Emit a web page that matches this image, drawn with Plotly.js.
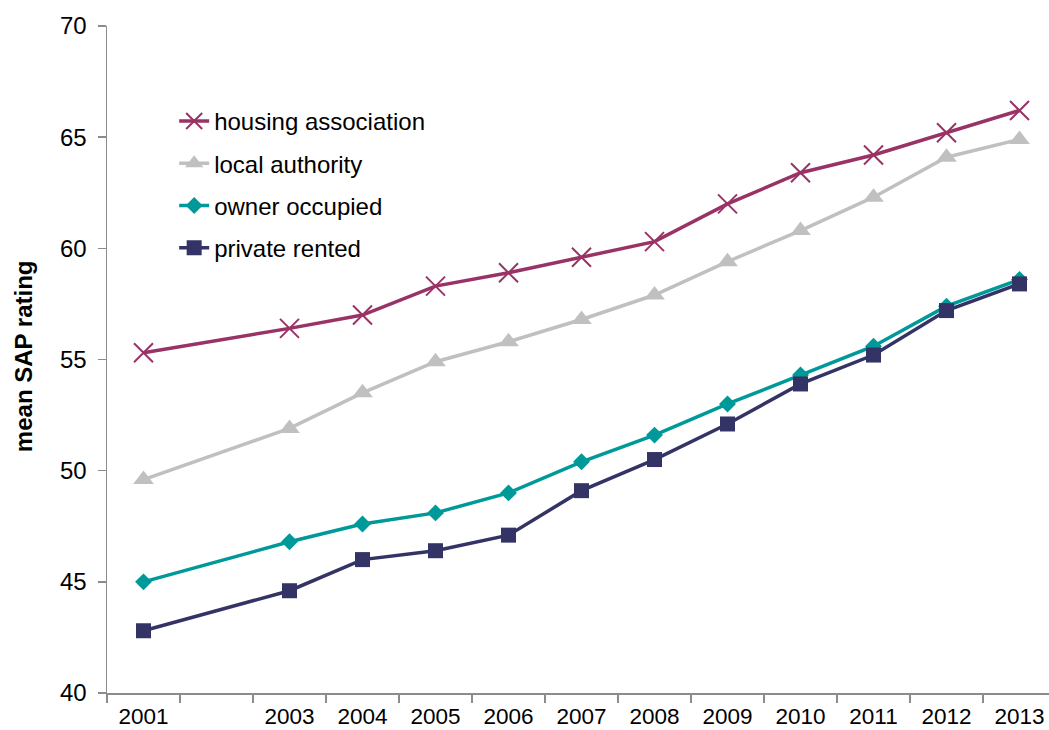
<!DOCTYPE html>
<html>
<head>
<meta charset="utf-8">
<script src="https://cdn.plot.ly/plotly-3.0.1.min.js"></script>
<style>
  html, body { margin: 0; padding: 0; background: #fff; overflow: hidden; }
  #chart { width: 1049px; height: 730px; }
</style>
</head>
<body>
<div id="chart"></div>
<script>
// Years (2002 has no survey data)
const years = [2001, 2003, 2004, 2005, 2006, 2007, 2008, 2009, 2010, 2011, 2012, 2013];
const tickLabels = ["2001", "2003", "2004", "2005", "2006", "2007", "2008", "2009", "2010", "2011", "2012", "2013"];

const housingAssociation = [55.3, 56.4, 57.0, 58.3, 58.9, 59.6, 60.3, 62.0, 63.4, 64.2, 65.2, 66.2];
const localAuthority     = [49.6, 51.9, 53.5, 54.9, 55.8, 56.8, 57.9, 59.4, 60.8, 62.3, 64.1, 64.9];
const ownerOccupied      = [45.0, 46.8, 47.6, 48.1, 49.0, 50.4, 51.6, 53.0, 54.3, 55.6, 57.4, 58.6];
const privateRented      = [42.8, 44.6, 46.0, 46.4, 47.1, 49.1, 50.5, 52.1, 53.9, 55.2, 57.2, 58.4];

const seriesNames = ["housing association", "local authority", "owner occupied", "private rented"];
const yTitle = "mean SAP rating";

const FONT = "Liberation Sans, Arial, sans-serif";
const AXIS = "#8c8c8c";

const traces = [
  {
    x: years, y: housingAssociation, name: seriesNames[0], legendgroup: "a",
    type: "scatter", mode: "lines+markers",
    line: { color: "#993366", width: 3.5 },
    marker: { symbol: "x-thin", size: 19, color: "#993366", line: { color: "#993366", width: 2 } }
  },
  {
    x: years, y: localAuthority, name: seriesNames[1], legendgroup: "b",
    type: "scatter", mode: "lines+markers",
    line: { color: "#c0c0c0", width: 3.5 },
    marker: { symbol: "triangle-up", size: 18, color: "#c0c0c0" }
  },
  {
    x: years, y: ownerOccupied, name: seriesNames[2], legendgroup: "c",
    type: "scatter", mode: "lines+markers",
    line: { color: "#009999", width: 3.5 },
    marker: { symbol: "diamond", size: 13, color: "#009999" }
  },
  {
    x: years, y: privateRented, name: seriesNames[3], legendgroup: "d",
    type: "scatter", mode: "lines+markers",
    line: { color: "#333366", width: 3.5 },
    marker: { symbol: "square", size: 15, color: "#333366" }
  }
];

const layout = {
  width: 1049, height: 730,
  margin: { l: 107, r: 0, t: 26, b: 37, pad: 0 },
  paper_bgcolor: "#ffffff", plot_bgcolor: "#ffffff",
  font: { family: FONT, size: 22, color: "#000000" },
  showlegend: true,
  legend: {
    x: 0.0713, y: 0.8906, xanchor: "left", yanchor: "top",
    bgcolor: "rgba(0,0,0,0)", borderwidth: 0,
    font: { family: FONT, size: 24, color: "#000000" },
    traceorder: "grouped", tracegroupgap: 8
  },
  xaxis: {
    range: [2000.5, 2013.404],
    tickmode: "array", tickvals: years, ticktext: tickLabels,
    ticks: "outside", ticklen: 2, tickcolor: "rgba(0,0,0,0)",
    showline: true, linecolor: AXIS, linewidth: 1.5,
    showgrid: false, zeroline: false, fixedrange: true,
    tickfont: { family: FONT, size: 22.5, color: "#000000" },
    minor: { tick0: 2000.5, dtick: 1, ticks: "outside", ticklen: 8, tickcolor: AXIS, tickwidth: 1.5, showgrid: false }
  },
  yaxis: {
    range: [40, 70], dtick: 5, tick0: 40,
    ticks: "outside", ticklen: 8, tickcolor: AXIS, tickwidth: 1.5,
    showline: true, linecolor: AXIS, linewidth: 1.5,
    showgrid: false, zeroline: false, fixedrange: true,
    ticklabelstandoff: 6,
    tickfont: { family: FONT, size: 24, color: "#000000" }
  },
  annotations: [
    {
      text: yTitle, textangle: -90, showarrow: false,
      xref: "paper", yref: "paper", x: -0.0892, y: 0.505,
      xanchor: "center", yanchor: "middle",
      font: { family: FONT, size: 24, color: "#000000", weight: "bold" }
    }
  ]
};

Plotly.newPlot("chart", traces, layout, { displayModeBar: false, staticPlot: true });
</script>
</body>
</html>
